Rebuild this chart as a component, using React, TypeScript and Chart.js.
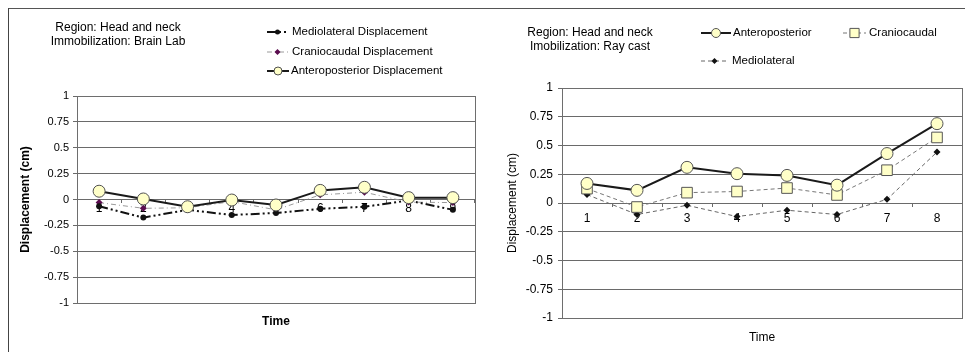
import { useEffect, useRef } from "react";
import { Chart, registerables } from "chart.js";

Chart.register(...registerables);

const FONT = "'Liberation Sans', Arial, sans-serif";

// ---------- Data: left panel (Brain Lab) ----------
const leftTimes = ["1", "2", "3", "4", "5", "6", "7", "8", "9"];
const leftMediolateral = [-0.065, -0.175, -0.1, -0.15, -0.13, -0.09, -0.07, -0.01, -0.1];
const leftCraniocaudal = [-0.03, -0.085, -0.08, -0.02, -0.1, 0.045, 0.07, -0.025, -0.03];
const leftAnteroposterior = [0.08, 0.005, -0.07, -0.005, -0.053, 0.088, 0.118, 0.018, 0.018];

// ---------- Data: right panel (Ray cast) ----------
const rightTimes = ["1", "2", "3", "4", "5", "6", "7", "8"];
const rightAnteroposterior = [0.17, 0.11, 0.31, 0.255, 0.24, 0.155, 0.43, 0.69];
const rightCraniocaudal = [0.125, -0.035, 0.09, 0.1, 0.13, 0.07, 0.285, 0.57];
const rightMediolateral = [0.073, -0.1, -0.02, -0.118, -0.063, -0.1, 0.032, 0.443];

const yMin = -1;
const yMax = 1;
const yStep = 0.25;

const leftTitleLines = ["Region: Head and neck", "Immobilization: Brain Lab"];
const rightTitleLines = ["Region: Head and neck", "Imobilization: Ray cast"];

type LegendItem = { ds: number; label: string; x0: number; x1: number; y: number; tx: number; r: number };

function drawMarker(ctx: CanvasRenderingContext2D, style: string, x: number, y: number, r: number, fill: string, stroke: string, bw: number) {
  ctx.save();
  ctx.beginPath();
  if (style === "circle") {
    ctx.arc(x, y, r, 0, Math.PI * 2);
  } else if (style === "rect") {
    const s = Math.SQRT1_2 * r;
    ctx.rect(x - s, y - s, 2 * s, 2 * s);
  } else if (style === "rectRot") {
    ctx.moveTo(x, y - r);
    ctx.lineTo(x + r, y);
    ctx.lineTo(x, y + r);
    ctx.lineTo(x - r, y);
    ctx.closePath();
  }
  ctx.fillStyle = fill;
  ctx.fill();
  if (bw > 0) {
    ctx.lineWidth = bw;
    ctx.strokeStyle = stroke;
    ctx.stroke();
  }
  ctx.restore();
}

function makeDecor(opts: {
  ox: number;
  oy: number;
  titles: string[];
  titleX: number;
  titleY: number;
  titleGap: number;
  legend: LegendItem[];
  legendFont: number;
  timeX: number;
  timeY: number;
  timeBold: boolean;
}) {
  return {
    id: "decor",
    beforeDatasetsDraw(chart: any) {
      const ctx = chart.ctx as CanvasRenderingContext2D;
      const { left, top, right, bottom } = chart.chartArea;
      ctx.save();
      ctx.strokeStyle = "#6e6e6e";
      ctx.lineWidth = 1;
      ctx.strokeRect(Math.round(left) + 0.5, Math.round(top) + 0.5, Math.round(right - left), Math.round(bottom - top));
      ctx.restore();
    },
    afterDraw(chart: any) {
      const ctx = chart.ctx as CanvasRenderingContext2D;
      ctx.save();
      ctx.fillStyle = "#000";
      ctx.textBaseline = "middle";
      ctx.textAlign = "center";
      ctx.font = `12px ${FONT}`;
      opts.titles.forEach((t, i) => {
        ctx.fillText(t, opts.titleX - opts.ox, opts.titleY + i * opts.titleGap - opts.oy);
      });
      ctx.font = `${opts.timeBold ? "bold " : ""}12px ${FONT}`;
      ctx.fillText("Time", opts.timeX - opts.ox, opts.timeY - opts.oy);

      // legend
      ctx.textAlign = "left";
      ctx.font = `${opts.legendFont}px ${FONT}`;
      opts.legend.forEach((it) => {
        const ds = chart.data.datasets[it.ds];
        const y = it.y - opts.oy;
        ctx.save();
        ctx.strokeStyle = ds.borderColor;
        ctx.lineWidth = ds.borderWidth;
        ctx.setLineDash(ds.borderDash || []);
        ctx.beginPath();
        ctx.moveTo(it.x0 - opts.ox, y);
        ctx.lineTo(it.x1 - opts.ox, y);
        ctx.stroke();
        ctx.restore();
        drawMarker(
          ctx,
          ds.pointStyle,
          (it.x0 + it.x1) / 2 - opts.ox,
          y,
          it.r,
          ds.pointBackgroundColor,
          ds.pointBorderColor,
          ds.pointBorderWidth
        );
        ctx.fillStyle = "#000";
        ctx.fillText(it.label, it.tx - opts.ox, y);
      });
      ctx.restore();
    },
  };
}

function yScale(width: number, tickFont: number, tickPad: number, titleBold: boolean, titlePadTop: number) {
  return {
    type: "linear",
    min: yMin,
    max: yMax,
    afterFit: (scale: any) => {
      scale.width = width;
    },
    ticks: {
      stepSize: yStep,
      color: "#000",
      font: { size: tickFont, family: FONT },
      padding: tickPad,
      callback: (v: any) => String(Math.round(Number(v) * 100) / 100),
    },
    grid: { color: "#6a6a6a", lineWidth: 1, tickLength: 4, drawTicks: true },
    border: { display: false },
    title: {
      display: true,
      text: "Displacement (cm)",
      color: "#000",
      font: { size: 12, family: FONT, weight: titleBold ? "bold" : "normal" },
      padding: { top: titlePadTop, bottom: 0 },
    },
  };
}

function xScale(tickLength: number, pad: number) {
  return {
    type: "category",
    position: { y: 0 },
    offset: true,
    grid: { drawOnChartArea: false, offset: true, tickLength, color: "#6a6a6a" },
    border: { display: false },
    ticks: { color: "#000", font: { size: 12, family: FONT }, padding: pad, maxRotation: 0, autoSkip: false },
  };
}

function leftConfig(): any {
  const ox = 9, oy = 10;
  return {
    type: "line",
    data: {
      labels: leftTimes,
      datasets: [
        {
          label: "Anteroposterior Displacement",
          data: leftAnteroposterior,
          borderColor: "#1a1a1a",
          borderWidth: 2,
          pointStyle: "circle",
          pointRadius: 6,
          pointBackgroundColor: "#ffffc8",
          pointBorderColor: "#505050",
          pointBorderWidth: 1,
        },
        {
          label: "Mediolateral Displacement",
          data: leftMediolateral,
          borderColor: "#111",
          borderWidth: 2,
          borderDash: [9, 3, 2, 3, 2, 3],
          pointStyle: "circle",
          pointRadius: 3,
          pointBackgroundColor: "#111",
          pointBorderColor: "#111",
          pointBorderWidth: 0,
        },
        {
          label: "Craniocaudal Displacement",
          data: leftCraniocaudal,
          borderColor: "#9a9a9a",
          borderWidth: 1,
          borderDash: [5, 3, 1, 3],
          pointStyle: "rectRot",
          pointRadius: 3.5,
          pointBackgroundColor: "#5b0d4f",
          pointBorderColor: "#5b0d4f",
          pointBorderWidth: 0,
        },
      ],
    },
    options: {
      animation: false,
      responsive: false,
      events: [],
      layout: { autoPadding: false, padding: { top: 86, right: 3, bottom: 49, left: 0 } },
      plugins: { legend: { display: false }, tooltip: { enabled: false } },
      elements: { line: { tension: 0 } },
      scales: {
        x: xScale(3, -1),
        y: yScale(68, 11, 4, true, 9),
      },
    },
    plugins: [
      makeDecor({
        ox,
        oy,
        titles: leftTitleLines,
        titleX: 118,
        titleY: 28,
        titleGap: 14,
        legendFont: 11.5,
        timeX: 276,
        timeY: 322,
        timeBold: true,
        legend: [
          { ds: 1, label: "Mediolateral Displacement", x0: 267, x1: 288, y: 32, tx: 292, r: 2.5 },
          { ds: 2, label: "Craniocaudal Displacement", x0: 267, x1: 288, y: 52, tx: 292, r: 3 },
          { ds: 0, label: "Anteroposterior Displacement", x0: 267, x1: 289, y: 71, tx: 291, r: 4 },
        ],
      }),
    ],
  };
}

function rightConfig(): any {
  const ox = 480, oy = 10;
  return {
    type: "line",
    data: {
      labels: rightTimes,
      datasets: [
        {
          label: "Anteroposterior",
          data: rightAnteroposterior,
          borderColor: "#1a1a1a",
          borderWidth: 2,
          pointStyle: "circle",
          pointRadius: 6,
          pointBackgroundColor: "#ffffc8",
          pointBorderColor: "#555",
          pointBorderWidth: 1,
        },
        {
          label: "Craniocaudal",
          data: rightCraniocaudal,
          borderColor: "#777",
          borderWidth: 1,
          borderDash: [4, 3],
          pointStyle: "rect",
          pointRadius: 7.5,
          pointBackgroundColor: "#ffffc8",
          pointBorderColor: "#555",
          pointBorderWidth: 1,
        },
        {
          label: "Mediolateral",
          data: rightMediolateral,
          borderColor: "#666",
          borderWidth: 1,
          borderDash: [4, 3],
          pointStyle: "rectRot",
          pointRadius: 3.5,
          pointBackgroundColor: "#111",
          pointBorderColor: "#111",
          pointBorderWidth: 0,
        },
      ],
    },
    options: {
      animation: false,
      responsive: false,
      events: [],
      layout: { autoPadding: false, padding: { top: 78, right: 3, bottom: 34, left: 0 } },
      plugins: { legend: { display: false }, tooltip: { enabled: false } },
      elements: { line: { tension: 0 } },
      scales: {
        x: xScale(4, 4),
        y: yScale(82, 12, 5, false, 25),
      },
    },
    plugins: [
      makeDecor({
        ox,
        oy,
        titles: rightTitleLines,
        titleX: 590,
        titleY: 33,
        titleGap: 14,
        legendFont: 11.5,
        timeX: 762,
        timeY: 338,
        timeBold: false,
        legend: [
          { ds: 0, label: "Anteroposterior", x0: 701, x1: 731, y: 33, tx: 733, r: 4.5 },
          { ds: 1, label: "Craniocaudal", x0: 843, x1: 866, y: 33, tx: 869, r: 6.5 },
          { ds: 2, label: "Mediolateral", x0: 701, x1: 728, y: 61, tx: 732, r: 3 },
        ],
      }),
    ],
  };
}

function ChartCanvas({ left, top, width, height, make }: { left: number; top: number; width: number; height: number; make: () => any }) {
  const ref = useRef<HTMLCanvasElement>(null);
  useEffect(() => {
    const chart = new Chart(ref.current as HTMLCanvasElement, make());
    return () => chart.destroy();
  }, []);
  return (
    <canvas
      ref={ref}
      width={width}
      height={height}
      style={{ position: "absolute", left, top, width, height, display: "block" }}
    />
  );
}

export default function App() {
  return (
    <div
      style={{
        position: "fixed",
        left: 0,
        top: 0,
        width: 965,
        height: 352,
        overflow: "hidden",
        background: "#fff",
        fontFamily: FONT,
      }}
    >
      <div style={{ position: "absolute", left: 8, top: 8, width: 957, height: 1, background: "#555" }} />
      <div style={{ position: "absolute", left: 8, top: 8, width: 1, height: 344, background: "#444" }} />
      <ChartCanvas left={9} top={10} width={469} height={342} make={leftConfig} />
      <ChartCanvas left={480} top={10} width={485} height={342} make={rightConfig} />
    </div>
  );
}
